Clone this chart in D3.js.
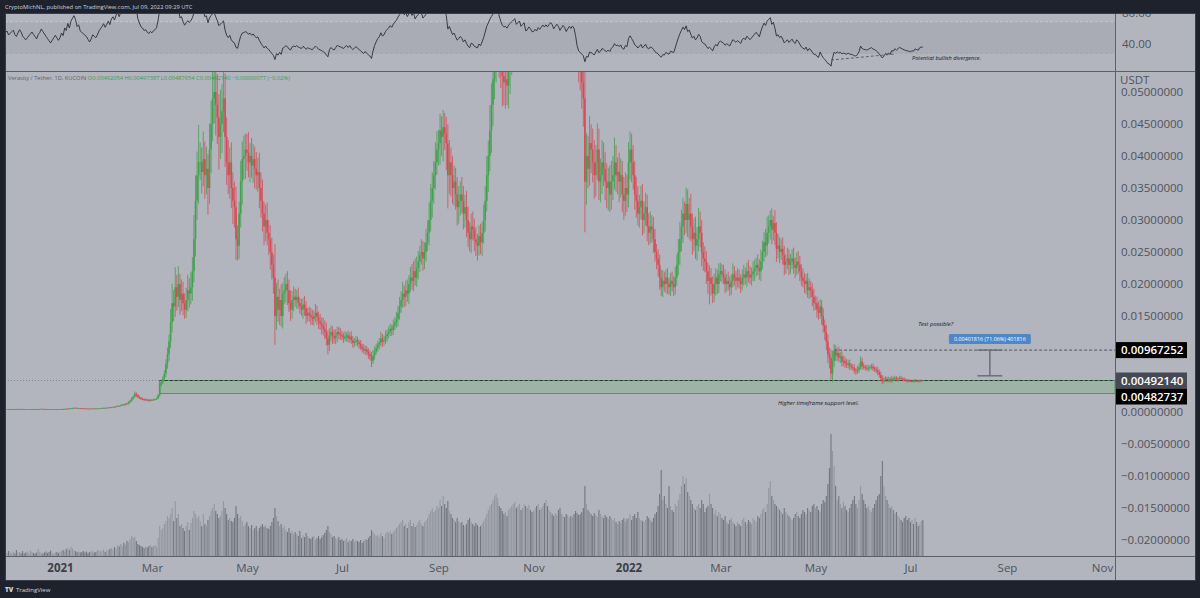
<!DOCTYPE html>
<html><head><meta charset="utf-8">
<script src="https://cdn.jsdelivr.net/npm/d3@7"></script>
<style>
html,body{margin:0;padding:0;background:#1e222d;overflow:hidden;}
svg{display:block;font-family:"Open Sans","Noto Sans",sans-serif;}
</style></head><body>
<svg id="chart" width="1200" height="598"></svg>
<script>
// ---------------- DATA ----------------
// Daily candles VRA/USDT (KuCoin), first candle 2020-11-12 (first 15 are off-screen look-back).
const startDate = "2020-11-12";
// closes in units of 1e-5 USDT
const closes = [
 42,44,43,45,47,46,44,42,43,45,46,48,47,44,43,
 45,46,44,45,
 46,47,45,44,46,48,47,45,44,43,44,45,46,47,46,45,44,46,47,49,48,47,46,45,44,43,44,45,46,45,44,
 45,47,46,50,49,54,52,58,62,66,64,60,62,58,57,56,55,54,52,50,52,55,54,53,55,58,60,62,65,63,66,
 70,68,76,80,78,88,95,92,105,115,112,130,128,150,175,210,240,285,265,235,220,205,200,190,195,185,180,190,
 185,195,200,210,260,420,470,520,600,750,900,1100,1400,1700,1650,1950,1800,2000,1750,1850,1700,1600,1750,1900,1850,1950,2200,2700,3300,3700,3900,
 3900,3750,3950,3700,3800,3500,4100,4500,4900,5000,4800,4600,4300,4500,4700,4900,4300,3900,3700,3900,3500,3300,3200,2700,2600,3100,3600,3950,4000,4100,
 4050,3900,4000,3850,3950,3800,3700,3750,3500,3300,3100,2900,3000,2800,2700,2500,2300,2100,1500,1800,1600,1750,1500,1850,1900,2000,1900,1700,1600,1750,1800,
 1750,1800,1700,1650,1600,1680,1620,1500,1550,1520,1480,1450,1500,1550,1480,1420,1380,1350,1300,1250,1150,1050,1200,1250,1180,1150,1200,1250,1220,1200,
 1180,1150,1180,1200,1150,1180,1120,1080,1100,1120,1090,1060,1020,990,960,980,940,900,870,800,880,950,1000,1050,1080,1150,1100,1120,1180,1220,1250,
 1300,1280,1350,1400,1450,1550,1650,1750,1850,1800,1900,1850,2000,2100,2050,2200,2100,2250,2350,2450,2500,2400,2500,2650,2800,3000,3300,3500,3700,3900,4100,
 4200,4400,4300,4450,4350,4200,3700,3900,3700,3500,3600,3400,3200,3300,3400,3300,3100,3200,3000,2800,2700,2900,2850,2700,2650,2600,2750,2650,2800,3000,
 3300,3700,4000,4400,4800,5200,5600,5900,6100,5800,5500,5250,5150,5200,5100,5400,5600,5800,6000,6200,5900,6100,6300,6000,6200,6400,5900,6000,6300,6200,6000,
 6000,6200,6100,6400,6300,6500,6700,6600,6800,6700,6900,7100,7000,6800,7000,7200,7100,6900,7100,7300,7200,7000,7200,7400,7300,7500,7400,7000,6200,5600,
 5400,5150,4900,3600,4000,3800,4200,4100,3900,3700,3900,4100,3600,3700,3900,3800,3600,3500,3600,3400,3600,3700,3900,3700,3750,3600,3700,3400,3300,3500,3400,
 3900,4100,3900,3700,3400,3300,3100,3200,3300,3000,3100,3200,2900,2800,2900,2850,2700,2500,2400,2300,2100,1950,2050,2000,2100,2000,1950,2050,2000,1950,2100,
 2300,2500,2700,2900,3100,3000,3250,3000,3100,2900,2700,2800,2600,2700,2900,2800,2500,2400,2350,2200,2050,2100,2000,1850,2000,2100,2000,2150,
 2200,2150,2100,2000,2050,2000,1950,2050,2150,2100,2050,2100,2050,2000,2100,2150,2100,2200,2150,2100,2150,2200,2250,2300,2250,2200,2350,2500,2650,2600,2800,
 2900,3000,2850,2950,2800,2550,2600,2500,2550,2450,2300,2350,2400,2300,2350,2400,2300,2250,2350,2300,2200,2100,2050,2000,2050,1900,1950,1900,1800,1700,
 1700,1600,1550,1650,1500,1350,1250,1100,900,850,600,800,950,880,920,850,870,780,800,760,740,760,720,700,690,650,640,660,700,790,720,
 700,690,680,690,700,710,680,670,650,620,580,530,480,500,520,500,510,490,520,510,530,510,520,530,520,510,500,495,490,485,
 480,485,480,490,485,480,490,492.217,492.14
];
// upper wick, % above body top
const wickUp = [
 3,4,3,5,4,3,4,5,3,4,3,4,5,3,4,
 4,3,5,3,
 3,4,2,5,3,4,3,2,4,3,5,3,2,4,3,3,4,2,5,3,4,3,2,3,4,3,5,2,3,4,3,
 4,5,6,4,5,7,6,8,6,5,4,6,5,4,3,5,4,6,5,4,6,5,4,5,6,4,5,7,5,6,5,
 6,8,5,7,6,9,8,7,10,8,9,7,10,12,9,11,8,12,7,6,8,7,9,6,8,7,9,8,
 5,6,5,7,8,6,7,8,9,10,12,10,15,18,12,16,10,14,8,12,10,9,11,13,10,12,10,14,12,10,15,
 8,6,11,7,9,6,10,8,12,9,14,10,8,12,9,11,8,7,9,6,8,7,9,10,8,6,9,7,8,6,
 6,8,5,7,6,5,7,6,8,7,10,6,8,9,7,8,9,7,25,12,15,10,14,9,11,8,10,9,12,8,9,
 7,6,8,5,7,6,8,7,5,6,7,8,6,9,7,6,8,7,9,10,12,11,9,8,7,9,8,7,6,8,
 6,5,7,4,6,5,7,6,5,6,5,4,6,5,7,6,5,6,7,8,10,8,7,6,7,9,6,7,8,6,7,
 6,5,7,6,8,7,9,8,10,7,8,9,7,8,10,7,9,8,7,6,8,7,6,8,7,9,8,7,6,8,7,
 5,6,5,6,5,6,7,9,6,8,7,6,8,7,6,8,7,6,8,7,6,7,8,6,7,5,6,7,6,8,
 7,8,6,9,7,8,10,9,8,7,9,8,7,6,8,9,7,8,6,7,8,7,6,8,7,6,8,7,6,7,8,
 6,7,8,6,7,8,6,7,8,6,7,8,6,7,8,6,7,8,6,7,8,6,7,8,6,7,8,6,7,8,
 6,7,8,10,9,8,10,7,8,9,7,10,8,7,9,8,7,8,6,7,9,8,10,7,6,8,7,6,8,7,6,
 8,7,6,7,6,8,7,6,7,8,6,7,6,7,8,6,7,6,5,6,7,6,8,7,6,7,5,6,7,6,8,
 7,8,10,9,8,6,8,7,8,10,7,8,9,7,10,8,7,6,8,7,6,9,7,6,8,7,6,8,
 6,5,7,6,5,7,6,5,8,6,5,7,6,5,6,7,5,6,8,6,5,7,6,5,7,6,8,7,6,8,9,
 6,5,6,4,7,6,7,5,6,7,6,5,7,6,5,6,7,5,6,7,6,5,7,6,5,6,7,5,6,7,
 7,6,8,7,6,8,7,9,10,12,15,20,12,10,9,11,8,9,10,8,9,7,8,6,7,8,6,9,8,10,7,
 6,5,7,6,5,6,7,5,6,8,7,9,8,10,7,6,8,7,9,6,7,6,5,7,6,5,6,5,4,5,
 4,3,4,5,4,3,4,3,1.07
];
// lower wick, % below body bottom
const wickDown = [
 4,3,5,3,4,5,3,4,4,3,5,4,3,4,3,
 3,4,3,4,
 4,3,5,3,2,4,3,5,3,4,3,2,4,3,5,3,4,3,2,4,3,5,3,4,2,4,3,3,5,3,4,
 5,4,3,6,4,5,7,5,6,8,7,5,4,6,5,4,5,3,6,5,4,5,6,4,5,3,5,4,6,5,4,
 5,6,7,5,8,6,7,9,6,8,7,9,8,6,10,7,9,8,12,10,9,8,7,10,8,9,11,8,
 6,5,7,6,5,8,6,7,8,9,10,12,9,11,14,10,12,9,13,10,11,9,8,10,12,9,11,8,10,9,12,
 7,9,6,10,8,12,7,9,6,8,10,9,12,8,10,7,11,9,8,10,9,11,10,12,9,8,7,10,8,9,
 7,6,8,5,7,8,6,7,9,8,9,10,8,7,9,11,10,12,30,14,12,15,11,13,9,10,12,8,11,9,10,
 6,8,5,7,6,9,7,8,6,7,8,6,7,6,8,9,7,10,8,9,10,14,9,8,10,7,8,9,7,6,
 5,6,4,7,5,6,5,7,6,5,6,7,5,6,5,7,6,8,7,12,6,7,5,6,7,5,8,6,5,7,6,
 5,7,6,5,6,8,7,6,7,9,8,7,9,6,7,8,6,7,8,7,6,8,7,6,5,7,6,8,7,6,5,
 6,8,7,9,6,10,14,8,9,7,8,7,9,8,7,6,8,7,9,8,7,8,6,7,8,9,6,7,8,6,
 6,5,7,6,8,7,6,8,9,10,8,9,7,8,6,7,8,6,7,8,9,7,8,6,7,8,9,7,6,8,7,
 7,6,8,7,6,8,7,6,8,7,6,8,7,6,8,7,6,8,7,6,8,7,6,8,7,6,8,7,10,8,
 7,8,9,22,10,8,7,9,8,10,9,7,8,9,8,7,8,9,10,8,7,8,6,7,8,9,7,8,9,7,8,
 6,7,8,6,7,8,6,7,6,8,7,6,8,7,6,7,8,6,7,8,9,7,8,6,7,8,6,7,6,7,6,
 6,7,8,7,9,8,7,9,10,8,9,7,8,9,7,8,9,8,7,9,10,18,9,8,7,9,8,7,
 5,6,5,7,6,5,7,6,5,6,7,5,6,7,5,6,5,7,6,5,6,5,7,6,5,6,7,5,6,7,6,
 6,7,8,6,7,8,6,7,5,6,7,6,5,7,6,5,6,7,5,6,7,6,5,7,8,6,7,6,8,7,
 6,8,7,6,9,8,10,12,15,20,15,22,12,10,9,8,10,9,8,9,7,8,9,6,7,8,9,7,8,6,8,
 5,6,5,7,6,5,6,7,6,7,8,9,10,7,6,8,7,6,7,6,5,6,7,5,6,5,4,5,6,4,
 3,4,3,4,3,4,3,3,0.894
];
// daily volume, millions of VRA
const volumes = [
 30,40,35,45,30,50,40,35,30,45,40,35,50,40,30,
 40,30,50,35,
 30,45,25,60,35,40,30,50,25,35,45,30,55,40,30,25,35,70,40,30,25,35,45,30,40,55,30,25,35,40,30,
 40,50,60,45,70,80,60,90,75,55,50,40,45,35,40,50,35,45,30,40,50,45,35,40,60,55,45,50,65,40,55,
 60,70,80,65,90,75,110,95,120,100,130,110,150,140,170,200,180,190,150,120,110,100,90,80,95,85,100,110,
 90,100,110,95,180,300,260,280,320,350,400,380,420,480,350,550,380,420,300,320,280,250,300,340,260,330,380,450,420,380,400,
 350,300,420,320,300,360,400,450,480,520,450,420,380,400,450,550,480,420,360,380,350,340,380,500,420,380,400,350,300,320,
 340,300,280,310,260,280,300,250,280,300,320,290,310,280,270,300,340,380,480,400,350,300,320,280,300,260,240,280,230,250,220,
 240,220,200,250,180,210,190,230,200,180,170,190,200,160,180,200,170,190,210,230,260,300,240,220,190,200,180,170,190,160,
 170,150,160,180,140,160,150,170,140,160,150,140,160,130,150,170,160,180,200,260,240,220,200,210,190,230,200,180,220,240,230,
 250,220,240,260,280,300,320,340,360,300,320,280,340,360,300,330,290,310,340,360,320,300,340,360,380,420,450,480,440,460,500,
 480,560,500,600,520,480,550,450,420,380,360,340,380,350,330,340,310,300,320,360,380,340,320,300,330,310,290,300,320,350,
 380,420,460,500,520,560,600,620,580,500,480,450,420,440,400,460,480,500,520,540,480,500,520,460,480,520,500,480,510,460,440,
 450,480,500,520,460,480,500,530,560,500,460,440,420,400,430,410,460,480,420,400,390,420,410,380,400,390,420,450,430,410,
 420,440,480,700,520,460,440,420,400,430,410,390,460,420,400,380,410,390,370,400,380,360,380,340,320,350,330,360,380,340,370,
 380,420,360,400,420,380,440,380,360,350,340,360,400,380,360,340,380,420,440,500,620,860,560,600,520,480,700,500,460,440,520,
 500,560,620,700,800,720,780,640,600,560,520,480,460,500,520,480,560,520,440,480,500,620,520,480,420,460,400,440,
 420,380,360,400,340,320,360,380,340,320,300,340,320,300,360,380,340,320,360,340,320,380,360,340,400,380,420,460,480,440,520,
 680,750,600,560,520,500,480,460,440,420,480,440,420,400,380,360,380,420,440,400,380,420,460,440,420,480,460,440,500,520,
 480,500,460,440,520,560,540,600,720,880,1220,1050,900,700,560,600,520,480,540,500,460,440,480,520,560,600,520,480,560,700,620,
 560,520,480,500,460,440,480,520,560,600,620,800,950,700,600,560,520,480,500,460,420,440,400,380,360,340,380,400,360,380,
 340,360,320,380,340,300,320,350,360
];
const priceUnit = 1e-5;
const priceTicks = [0.05,0.045,0.04,0.035,0.03,0.025,0.02,0.015,-0.005,-0.01,-0.015,-0.02];
const zeroTick = {value:0, text:"0.00000000"};
const rsiTicks = [80,40];
const timeTicks = ["2021-01-01","2021-03-01","2021-05-01","2021-07-01","2021-09-01","2021-11-01",
                   "2022-01-01","2022-03-01","2022-05-01","2022-07-01","2022-09-01","2022-11-01"];
const rsiLength = 14;
// drawings
const supportZone = {start:"2021-03-06", top:0.0049214, bottom:0.0029};
const targetLine = {start:"2022-05-13", price:0.00967252};
const measure = {date:"2022-08-21", top:0.00967252, bottom:0.00565436, text:"0.00401816 (71.06%) 401816"};
const divergence = [["2022-05-11",21.5],["2022-06-21",29.1]];
const notes = [
  {text:"Test possible?", date:"2022-07-06", price:0.01366},
  {text:"Higher timeframe support level.", date:"2022-04-07", price:0.00126}
];
const rsiNote = {text:"Potential bullish divergence.", date:"2022-07-02", value:22.8};
const axisLabels = [
  {price:0.00967252, text:"0.00967252", fill:"#000000", shift:0},
  {price:0.0049214, text:"0.00492140", fill:"#474a54", shift:0},
  {price:0.0049214, text:"0.00482737", fill:"#000000", shift:16}
];

// ---------------- LAYOUT ----------------
const W=1200,H=598;
const F={l:5,t:13,r:1195,b:580};
const axisX=1115;
const rsiTop=13, rsiBot=71, mainTop=71, mainBot=556;
const bg="#b2b5be", lineCol="#5d606b", txtCol="#4f525c";
const up="#43a04f", down="#d44b55";

const parse = s => new Date(s+"T00:00:00Z");
const fmt8 = d3.format(".8f");
const svg=d3.select("#chart");
const defs=svg.append("defs");
defs.append("clipPath").attr("id","cMain").append("rect").attr("x",F.l).attr("y",mainTop).attr("width",axisX-F.l).attr("height",mainBot-mainTop);
defs.append("clipPath").attr("id","cRsi").append("rect").attr("x",F.l).attr("y",rsiTop).attr("width",axisX-F.l).attr("height",rsiBot-rsiTop);
defs.append("clipPath").attr("id","cRsiAxis").append("rect").attr("x",axisX).attr("y",rsiTop).attr("width",F.r-axisX).attr("height",rsiBot-rsiTop);
defs.append("clipPath").attr("id","cTopTick").append("rect").attr("x",axisX).attr("y",mainTop+16).attr("width",F.r-axisX).attr("height",30);

svg.append("rect").attr("width",W).attr("height",H).attr("fill","#1e222d");
svg.append("rect").attr("x",F.l).attr("y",F.t).attr("width",F.r-F.l).attr("height",F.b-F.t).attr("fill",bg);

const x=d3.scaleUtc().domain([parse("2021-01-01"),parse("2022-11-01")]).range([60,1102]);
const y=d3.scaleLinear().domain([0,0.045]).range([412,124]);
const yR=d3.scaleLinear().domain([30,80]).range([53.3,13.8]);
const yV=d3.scaleLinear().domain([0,1300]).range([mainBot,mainBot-130]);

const t0=parse(startDate);
const candles=closes.map((c,i)=>{
  const o=i?closes[i-1]:c;
  const hi=Math.max(o,c)*(1+wickUp[i]/100), lo=Math.min(o,c)*(1-wickDown[i]/100);
  return {date:d3.utcDay.offset(t0,i), o:o*priceUnit, c:c*priceUnit, h:hi*priceUnit, l:lo*priceUnit, v:volumes[i]};
});

// RSI (Wilder)
const rsi=[]; let ag=0, al=0;
for(let i=1;i<closes.length;i++){
  const ch=closes[i]-closes[i-1], g=Math.max(ch,0), l=Math.max(-ch,0);
  if(i<=rsiLength){ ag+=g/rsiLength; al+=l/rsiLength; if(i<rsiLength) continue; }
  else { ag=(ag*(rsiLength-1)+g)/rsiLength; al=(al*(rsiLength-1)+l)/rsiLength; }
  rsi.push({date:candles[i].date, v: al===0?100:100-100/(1+ag/al)});
}

// ---------------- RSI PANE ----------------
const gR=svg.append("g").attr("clip-path","url(#cRsi)");
gR.append("rect").attr("x",F.l).attr("width",axisX-F.l).attr("y",yR(70)).attr("height",yR(30)-yR(70)).attr("fill","#a9acb5");
gR.append("line").attr("x1",F.l).attr("x2",axisX).attr("y1",yR(70)).attr("y2",yR(70)).attr("stroke","#c4c6cd").attr("stroke-dasharray","3,2");
gR.append("line").attr("x1",F.l).attr("x2",axisX).attr("y1",yR(30)).attr("y2",yR(30)).attr("stroke","#a3a6af").attr("stroke-dasharray","3,2");
gR.append("path").datum(rsi).attr("fill","none").attr("stroke","#2b2d35").attr("stroke-width",0.9)
  .attr("d",d3.line().x(d=>x(d.date)).y(d=>yR(d.v)));
gR.append("line").attr("x1",x(parse(divergence[0][0]))).attr("y1",yR(divergence[0][1]))
  .attr("x2",x(parse(divergence[1][0]))).attr("y2",yR(divergence[1][1]))
  .attr("stroke","#4a4d56").attr("stroke-dasharray","3,2").attr("stroke-width",0.8);
gR.append("text").attr("x",x(parse(rsiNote.date))).attr("y",yR(rsiNote.value)).attr("dominant-baseline","middle")
  .attr("font-size",5.6).attr("font-style","italic").attr("fill","#131722").text(rsiNote.text);

svg.append("g").attr("clip-path","url(#cRsiAxis)").selectAll("text").data(rsiTicks).join("text")
  .attr("x",axisX+7).attr("y",d=>yR(d)).attr("dominant-baseline","middle")
  .attr("font-size",11.5).attr("fill",txtCol).text(d=>d3.format(".2f")(d));

// ---------------- MAIN PANE ----------------
const gM=svg.append("g").attr("clip-path","url(#cMain)");
// volume
gM.append("g").selectAll("rect").data(candles).join("rect")
  .attr("x",d=>x(d.date)-0.55).attr("width",1.1)
  .attr("y",d=>yV(d.v)).attr("height",d=>mainBot-yV(d.v))
  .attr("fill",d=>d.c>=d.o?"#9497a0":"#72757e");
// last price dotted line
gM.append("line").attr("x1",F.l).attr("x2",axisX).attr("y1",y(supportZone.top)).attr("y2",y(supportZone.top))
  .attr("stroke","#80838c").attr("stroke-dasharray","1,2");
// support zone
const zx=x(parse(supportZone.start));
gM.append("rect").attr("x",zx).attr("y",y(supportZone.top)).attr("width",axisX-zx).attr("height",y(supportZone.bottom)-y(supportZone.top))
  .attr("fill","#4caf50").attr("fill-opacity",0.22).attr("stroke","#3f8f48").attr("stroke-width",0.8);
gM.append("line").attr("x1",zx).attr("x2",axisX).attr("y1",y(supportZone.top)).attr("y2",y(supportZone.top))
  .attr("stroke","#2a2e39").attr("stroke-dasharray","3,2");
// candles
const gc=gM.append("g");
gc.selectAll("line").data(candles).join("line")
  .attr("x1",d=>x(d.date)).attr("x2",d=>x(d.date)).attr("y1",d=>y(d.h)).attr("y2",d=>y(d.l))
  .attr("stroke",d=>d.c>=d.o?up:down).attr("stroke-width",0.8);
gc.selectAll("rect").data(candles).join("rect")
  .attr("x",d=>x(d.date)-0.8).attr("width",1.6)
  .attr("y",d=>y(Math.max(d.o,d.c))).attr("height",d=>Math.max(0.8,Math.abs(y(d.o)-y(d.c))))
  .attr("fill",d=>d.c>=d.o?up:down);
// target dashed line
gM.append("line").attr("x1",x(parse(targetLine.start))).attr("x2",axisX).attr("y1",y(targetLine.price)).attr("y2",y(targetLine.price))
  .attr("stroke","#3b3e48").attr("stroke-dasharray","3,2").attr("stroke-width",0.8);
// measure tool
const mx=x(parse(measure.date)), capW=x(d3.utcDay.offset(parse(measure.date),8))-mx;
const gMe=gM.append("g").attr("stroke","#676a74").attr("stroke-width",1.4);
gMe.append("line").attr("x1",mx).attr("x2",mx).attr("y1",y(measure.top)).attr("y2",y(measure.bottom));
gMe.append("line").attr("x1",mx-capW).attr("x2",mx+capW).attr("y1",y(measure.top)).attr("y2",y(measure.top));
gMe.append("line").attr("x1",mx-capW).attr("x2",mx+capW).attr("y1",y(measure.bottom)).attr("y2",y(measure.bottom));
gM.append("rect").attr("x",mx-41).attr("y",y(measure.top)-16).attr("width",82).attr("height",10).attr("rx",1.5).attr("fill","#4f86c8");
gM.append("text").attr("x",mx).attr("y",y(measure.top)-11).attr("text-anchor","middle").attr("dominant-baseline","middle")
  .attr("font-size",5.4).attr("fill","#ffffff").text(measure.text);
// notes
gM.selectAll("text.note").data(notes).join("text").attr("class","note")
  .attr("x",d=>x(parse(d.date))).attr("y",d=>y(d.price)).attr("dominant-baseline","middle")
  .attr("font-size",5.8).attr("font-style","italic").attr("fill","#131722").text(d=>d.text);
// legend
const lg=svg.append("text").attr("x",8).attr("y",79.5).attr("font-size",5.7);
lg.append("tspan").attr("fill","#5d606b").text("Verasity / Tether, 1D, KUCOIN  ");
lg.append("tspan").attr("fill","#3f9a4d").text("O0.00492054  H0.00497387  L0.00487654  C0.00492140  −0.00000077 (−0.02%)");

// price axis tick labels
const gPA=svg.append("g");
priceTicks.forEach(v=>{
  const t=gPA.append("text").attr("x",axisX+6).attr("y",y(v)+4).attr("font-size",11.5).attr("fill",txtCol).text(fmt8(v));
  if(v===priceTicks[0]) t.attr("clip-path","url(#cTopTick)");
});
svg.append("text").attr("x",axisX+6).attr("y",y(zeroTick.value)+4).attr("font-size",11.5).attr("fill",txtCol).text(zeroTick.text);
svg.append("text").attr("x",axisX+5).attr("y",mainTop+12.5).attr("font-size",11.5).attr("fill",txtCol).text("USDT");
// price labels (boxes)
const pl=svg.append("g").selectAll("g").data(axisLabels).join("g")
  .attr("transform",d=>`translate(${axisX},${y(d.price)+d.shift})`);
pl.append("rect").attr("x",0).attr("y",-8).attr("width",72).attr("height",16).attr("fill",d=>d.fill);
pl.append("text").attr("x",6).attr("y",4).attr("font-size",11.5).attr("font-weight",600)
  .attr("fill","#ffffff").text(d=>d.text);

// time axis
const tAxis=svg.append("g").attr("transform",`translate(0,${mainBot})`)
  .call(d3.axisBottom(x).tickValues(timeTicks.map(parse)).tickSize(0).tickPadding(8)
    .tickFormat(d=>d.getUTCMonth()===0?d3.utcFormat("%Y")(d):d3.utcFormat("%b")(d)));
tAxis.select(".domain").remove();
tAxis.selectAll("text").attr("font-size",11.5).attr("font-family","Open Sans, sans-serif")
  .attr("fill",d=>d.getUTCMonth()===0?"#3b3e48":txtCol).attr("font-weight",d=>d.getUTCMonth()===0?700:400);

// separators / frame
const fr=svg.append("g").attr("stroke",lineCol).attr("stroke-width",1).attr("shape-rendering","crispEdges");
fr.append("line").attr("x1",F.l).attr("x2",F.r).attr("y1",rsiBot).attr("y2",rsiBot);
fr.append("line").attr("x1",F.l).attr("x2",F.r).attr("y1",mainBot).attr("y2",mainBot);
fr.append("line").attr("x1",axisX).attr("x2",axisX).attr("y1",F.t).attr("y2",F.b);
fr.append("rect").attr("x",F.l).attr("y",F.t).attr("width",F.r-F.l).attr("height",F.b-F.t).attr("fill","none").attr("stroke","#3a3d47");

// header & footer
svg.append("text").attr("x",5).attr("y",9).attr("font-size",5.8).attr("fill","#d1d4dc")
  .text("CryptoMichNL, published on TradingView.com, Jul 09, 2022 09:29 UTC");
svg.append("text").attr("x",5).attr("y",592).attr("font-size",6.5).attr("font-weight",800).attr("fill","#d1d4dc").text("TV");
svg.append("text").attr("x",16).attr("y",592).attr("font-size",6).attr("fill","#d1d4dc").text("TradingView");
</script>
</body></html>
